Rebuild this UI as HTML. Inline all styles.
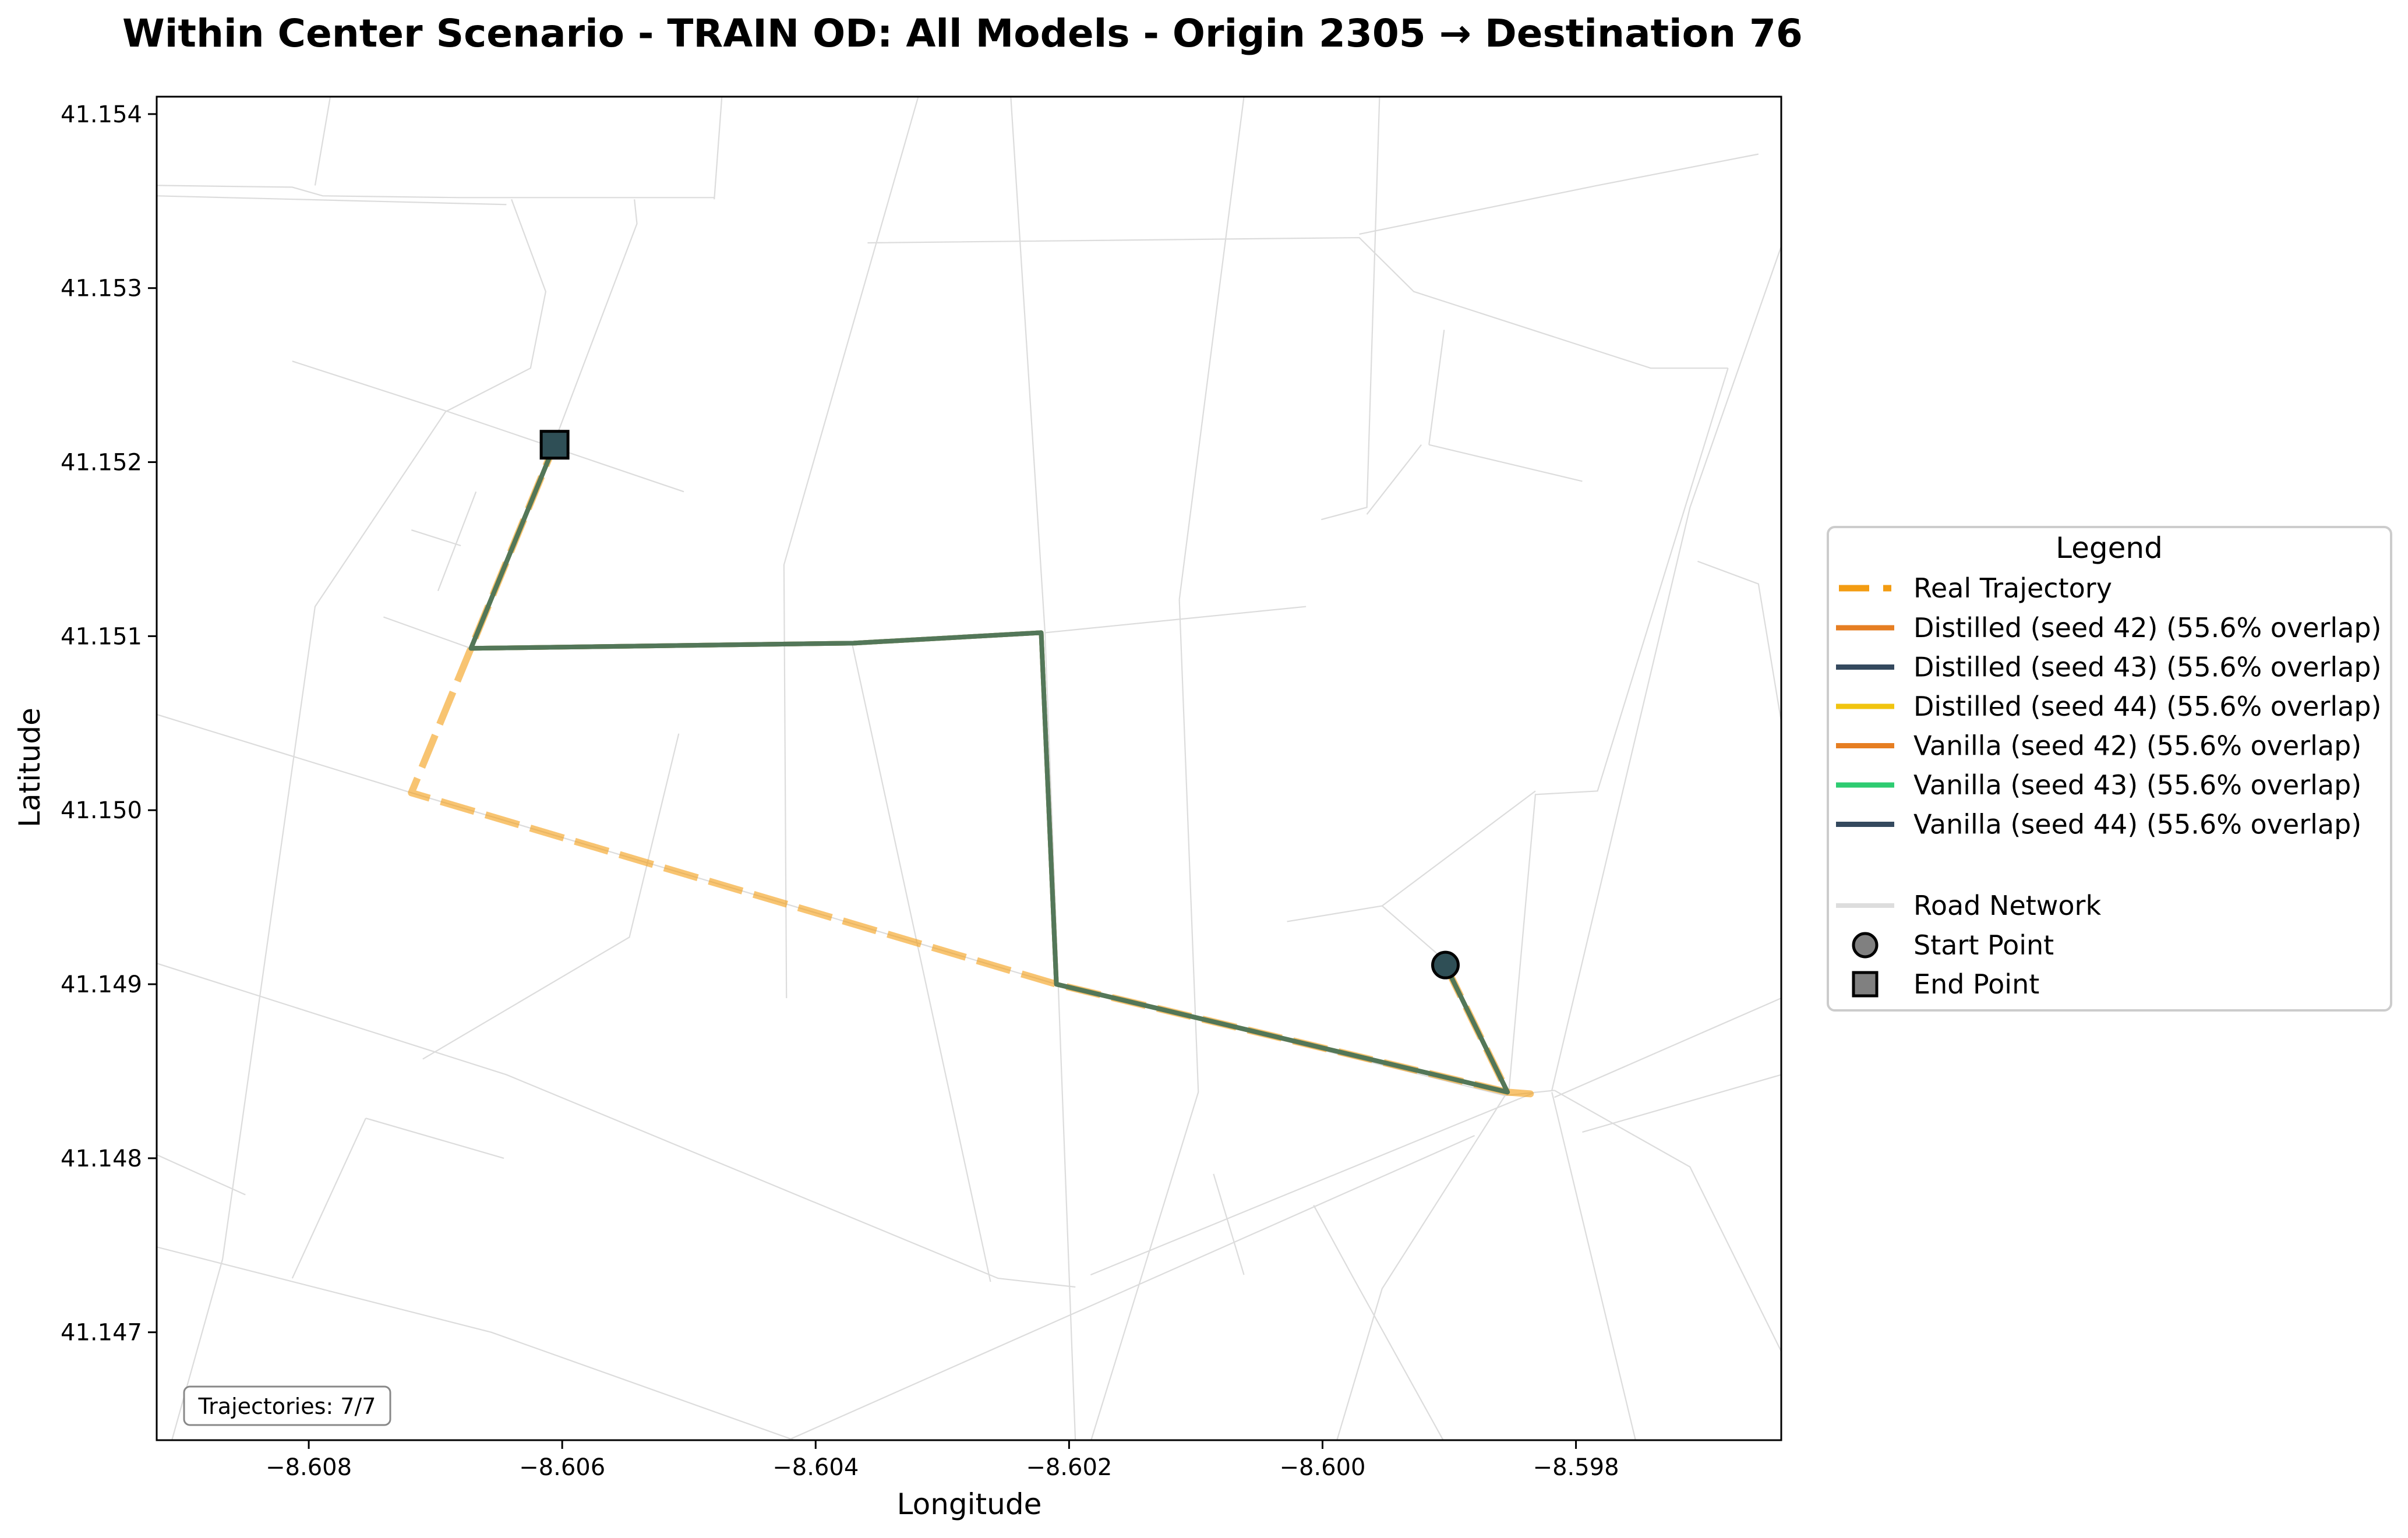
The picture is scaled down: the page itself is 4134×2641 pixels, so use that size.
<!DOCTYPE html>
<html><head><meta charset="utf-8"><style>
body{margin:0;background:#fff}
svg{display:block;font-family:"DejaVu Sans","Liberation Sans",sans-serif}
</style></head><body>
<svg id="chart" xmlns="http://www.w3.org/2000/svg" width="4134" height="2641" viewBox="0 0 4134 2641">
<rect width="4134" height="2641" fill="#fff"/>
<text x="210" y="80" font-size="66" font-weight="bold" fill="#000">Within Center Scenario - TRAIN OD: All Models - Origin 2305 → Destination 76</text>
<defs><clipPath id="pc"><rect x="269" y="166" width="2789" height="2307"/></clipPath></defs>
<g id="roads" clip-path="url(#pc)"></g>
<g id="trajs" clip-path="url(#pc)"></g>
<g id="markers"></g>
<rect x="269" y="166" width="2789" height="2307" fill="none" stroke="#000" stroke-width="3"/>
<g id="axes"></g>
<text x="1664" y="2600" font-size="50" text-anchor="middle">Longitude</text>
<text x="68" y="1318" font-size="50" text-anchor="middle" transform="rotate(-90 68 1318)">Latitude</text>
<g>
<rect x="316" y="2381" width="354" height="66" rx="10" fill="#fff" stroke="#888" stroke-width="3"/>
<text x="493" y="2428" font-size="38" text-anchor="middle">Trajectories: 7/7</text>
</g>
<g id="legend">
<rect x="3138" y="905" width="967" height="830" rx="12" fill="#fff" stroke="#ccc" stroke-width="4"/>
<text x="3621" y="958" font-size="50" text-anchor="middle">Legend</text>
</g>
</svg>
<script>
const xDomain=[-8.60920,-8.59638], yDomain=[41.14638,41.15410];
const xTicks=[-8.608,-8.606,-8.604,-8.602,-8.600,-8.598];
const yTicks=[41.147,41.148,41.149,41.150,41.151,41.152,41.153,41.154];
const realLon=[-8.59903,-8.59854,-8.59836,-8.59854,-8.60210,-8.60719,-8.60672,-8.60606];
const realLat=[41.14911,41.14838,41.14837,41.14838,41.14900,41.15010,41.15093,41.15210];
const modelLon=[-8.59903,-8.59854,-8.60210,-8.60222,-8.60370,-8.60672,-8.60606];
const modelLat=[41.14911,41.14838,41.14900,41.15102,41.15096,41.15093,41.15210];
const modelNames=["Distilled (seed 42)","Distilled (seed 43)","Distilled (seed 44)","Vanilla (seed 42)","Vanilla (seed 43)","Vanilla (seed 44)"];
const modelOverlap=[55.6,55.6,55.6,55.6,55.6,55.6];
const modelColors=["#e67e22","#34495e","#f1c40f","#e67e22","#2ecc71","#34495e"];
const startPt=[-8.59903,41.14911], endPt=[-8.60606,41.15210];
const roads=[
[[-8.60920,41.15055],[-8.60719,41.15010],[-8.60210,41.14900],[-8.59856,41.14836],[-8.59817,41.14839]],
[[-8.60920,41.14912],[-8.60644,41.14848],[-8.60256,41.14731],[-8.60195,41.14726]],
[[-8.60920,41.14802],[-8.60850,41.14779]],
[[-8.60920,41.14749],[-8.60656,41.14700],[-8.60413,41.14637]],
[[-8.60783,41.15410],[-8.60795,41.15359]],
[[-8.60920,41.15359],[-8.60813,41.15358],[-8.60789,41.15353],[-8.60680,41.15352],[-8.60480,41.15352]],
[[-8.60920,41.15353],[-8.60644,41.15348]],
[[-8.60640,41.15351],[-8.60613,41.15298],[-8.60625,41.15254],[-8.60692,41.15229],[-8.60795,41.15117],[-8.60868,41.14742],[-8.60908,41.14638]],
[[-8.60813,41.15258],[-8.60690,41.15229],[-8.60504,41.15183]],
[[-8.60474,41.15410],[-8.60480,41.15351]],
[[-8.60543,41.15351],[-8.60541,41.15337],[-8.60607,41.15210]],
[[-8.60319,41.15410],[-8.60425,41.15141],[-8.60423,41.14892]],
[[-8.60246,41.15410],[-8.60219,41.15102],[-8.60195,41.14637]],
[[-8.60359,41.15326],[-8.59971,41.15329],[-8.59928,41.15298],[-8.59741,41.15254],[-8.59680,41.15254]],
[[-8.59971,41.15331],[-8.59783,41.15359],[-8.59656,41.15377]],
[[-8.60219,41.15102],[-8.60013,41.15117]],
[[-8.60062,41.15410],[-8.60113,41.15121]],
[[-8.59955,41.15410],[-8.59965,41.15174],[-8.60001,41.15167]],
[[-8.59638,41.15324],[-8.59710,41.15174],[-8.59819,41.14839]],
[[-8.59680,41.15254],[-8.59783,41.15011],[-8.59832,41.15009],[-8.59853,41.14838]],
[[-8.59916,41.15210],[-8.59795,41.15189]],
[[-8.59916,41.15210],[-8.59904,41.15276]],
[[-8.59922,41.15210],[-8.59965,41.15170]],
[[-8.60371,41.15095],[-8.60262,41.14729]],
[[-8.59856,41.14836],[-8.59953,41.14725],[-8.59989,41.14637]],
[[-8.59832,41.14838],[-8.60183,41.14733]],
[[-8.59880,41.14813],[-8.60425,41.14637]],
[[-8.59817,41.14839],[-8.59710,41.14795],[-8.59638,41.14689]],
[[-8.59817,41.14835],[-8.59638,41.14892]],
[[-8.59795,41.14815],[-8.59638,41.14848]],
[[-8.59819,41.14838],[-8.59753,41.14638]],
[[-8.60028,41.14936],[-8.59953,41.14945],[-8.59904,41.14914]],
[[-8.60508,41.15044],[-8.60547,41.14927],[-8.60710,41.14857]],
[[-8.59953,41.14945],[-8.59832,41.15011]],
[[-8.60086,41.14791],[-8.60062,41.14733]],
[[-8.60007,41.14773],[-8.59977,41.14733],[-8.59904,41.14637]],
[[-8.59704,41.15143],[-8.59656,41.15130],[-8.59638,41.15051]],
[[-8.60755,41.14823],[-8.60646,41.14800]],
[[-8.60813,41.14731],[-8.60755,41.14823]],
[[-8.60741,41.15111],[-8.60672,41.15093]],
[[-8.60719,41.15161],[-8.60680,41.15152]],
[[-8.60668,41.15183],[-8.60698,41.15126]],
[[-8.60113,41.15121],[-8.60098,41.14838],[-8.60183,41.14637]]
];
const X0=269,X1=3058,Y0=2473,Y1=166;
function sx(v){return X0+(v-xDomain[0])/(xDomain[1]-xDomain[0])*(X1-X0);}
function sy(v){return Y0-(v-yDomain[0])/(yDomain[1]-yDomain[0])*(Y0-Y1);}
const NS="http://www.w3.org/2000/svg";
function mk(t,a,p){const e=document.createElementNS(NS,t);for(const k in a)e.setAttribute(k,a[k]);p.appendChild(e);return e;}
const rg=document.getElementById('roads');
roads.forEach(r=>{
 const e=mk('polyline',{points:r.map(p=>sx(p[0])+','+sy(p[1])).join(' '),fill:'none',stroke:'#dcdcdc','stroke-width':2.2},rg);
 
 
});
const tg=document.getElementById('trajs');
const rp=mk('polyline',{points:realLon.map((v,i)=>sx(v)+','+sy(realLat[i])).join(' '),fill:'none',stroke:'#f39c12','stroke-width':12,'stroke-opacity':0.6,'stroke-dasharray':'60 20','stroke-linejoin':'round'},tg);


modelColors.forEach((c,i)=>{
 const e=mk('polyline',{points:modelLon.map((v,j)=>sx(v)+','+sy(modelLat[j])).join(' '),fill:'none',stroke:c,'stroke-width':8,'stroke-opacity':0.55,'stroke-linejoin':'round'},tg);
 
 
});
const mg=document.getElementById('markers');
const sm=mk('circle',{cx:sx(startPt[0]),cy:sy(startPt[1]),r:22,fill:'#2f4f56',stroke:'#000','stroke-width':5},mg);


const em=mk('rect',{x:sx(endPt[0])-23,y:sy(endPt[1])-23,width:46,height:46,fill:'#2f4f56',stroke:'#000','stroke-width':5},mg);


const ag=document.getElementById('axes');
xTicks.forEach(t=>{
 const x=sx(t);
 const l=mk('line',{x1:x,x2:x,y1:Y0,y2:Y0+15,stroke:'#000','stroke-width':3},ag);
 
 
 const tx=mk('text',{x:x,y:Y0+60,'font-size':40,'text-anchor':'middle'},ag);
 tx.textContent='\u2212'+Math.abs(t).toFixed(3);
 
 
});
yTicks.forEach(t=>{
 const y=sy(t);
 const l=mk('line',{x1:X0-15,x2:X0,y1:y,y2:y,stroke:'#000','stroke-width':3},ag);
 
 
 const tx=mk('text',{x:X0-25,y:y+14,'font-size':40,'text-anchor':'end'},ag);
 tx.textContent=t.toFixed(3);
 
 
});
const lg=document.getElementById('legend');
function entry(y,label,draw,name){
 const g=mk('g',{},lg);
 
 
 draw(g,y);
 const t=mk('text',{x:3285,y:y+16,'font-size':46},g);t.textContent=label;
}
entry(1010,'Real Trajectory',(g,y)=>{mk('line',{x1:3157,x2:3248,y1:y,y2:y,stroke:'#f39c12','stroke-width':11,'stroke-dasharray':'52 24 14 30'},g);},'legend-real');
modelNames.forEach((n,i)=>{
 entry(1078+i*67.5,n+' ('+modelOverlap[i].toFixed(1)+'% overlap)',(g,y)=>{mk('line',{x1:3152,x2:3252,y1:y,y2:y,stroke:modelColors[i],'stroke-width':9},g);},'legend-model-'+(i+1));
});
entry(1555,'Road Network',(g,y)=>{mk('line',{x1:3152,x2:3252,y1:y,y2:y,stroke:'#ddd','stroke-width':8},g);},'legend-road');
entry(1623,'Start Point',(g,y)=>{mk('circle',{cx:3202,cy:y,r:20,fill:'#808080',stroke:'#000','stroke-width':5},g);},'legend-start');
entry(1690,'End Point',(g,y)=>{mk('rect',{x:3182,y:y-20,width:40,height:40,fill:'#808080',stroke:'#000','stroke-width':5},g);},'legend-end');
</script>
</body></html>
